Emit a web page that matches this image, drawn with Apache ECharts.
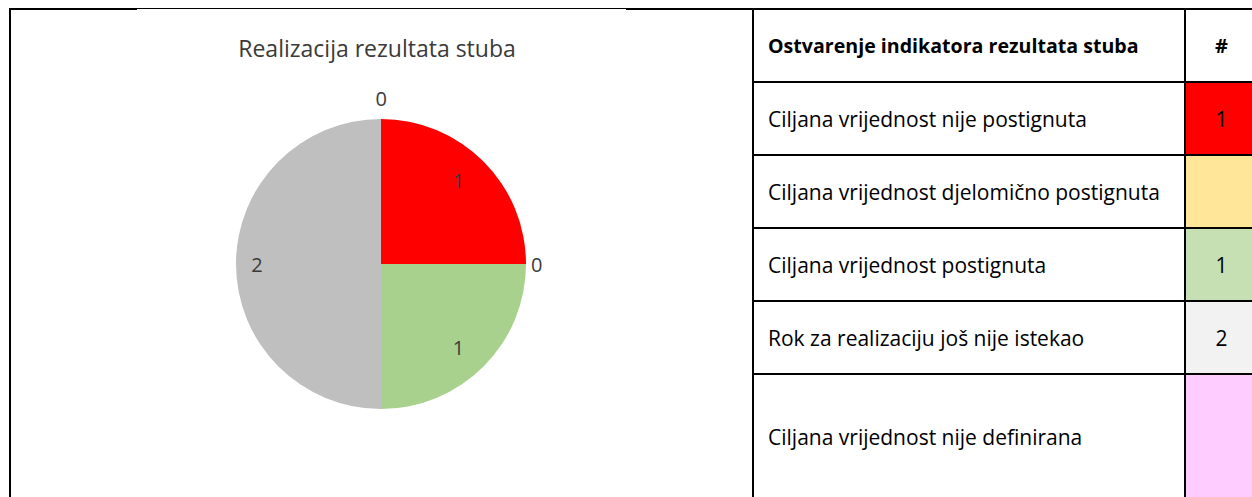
<!DOCTYPE html>
<html>
<head>
<meta charset="utf-8">
<title>Realizacija rezultata stuba</title>
<script src="https://cdn.jsdelivr.net/npm/echarts@6/dist/echarts.min.js"></script>
<style>
  html, body { margin: 0; padding: 0; background: #fff; }
  #main { width: 1252px; height: 497px; }
</style>
</head>
<body>
<div id="main"></div>
<script>
// data
const chartTitle = "Realizacija rezultata stuba";
const tableHeader = "Ostvarenje indikatora rezultata stuba";
const countHeader = "#";
const categories = [
  "Ciljana vrijednost nije postignuta",
  "Ciljana vrijednost djelomično postignuta",
  "Ciljana vrijednost postignuta",
  "Rok za realizaciju još nije istekao",
  "Ciljana vrijednost nije definirana",
];
const counts = [1, 0, 1, 2, 0];

// palettes
const pieColors = ["#FF0000", "#FFD966", "#A9D18E", "#BFBFBF", "#FF99FF"];
const cellColors = ["#FF0000", "#FFE699", "#C6E0B4", "#F2F2F2", "#FFCCFF"];

const font = "'Open Sans', 'Liberation Sans', sans-serif";
const textColor = "#3a3a3a";

// table layout
const tableLeft = 753;
const colSplit = 1185;
const tableRight = 1252;
const tableTop = 9;
const rowH = 73;
const bottom = 497;

// extra nudges for the zero-value labels (Excel puts them just outside the rim)
const zeroLabelTweak = {
  1: { label: { distanceToLabelLine: 5, padding: [8, 0, 0, 0] }, labelLine: { length: 0 } },
  4: { label: { distanceToLabelLine: -6 }, labelLine: { length: 21 } },
};

const graphics = [];

// # column fills
categories.forEach((c, i) => {
  const y = tableTop + rowH * (i + 1);
  const h = i === categories.length - 1 ? bottom - y : rowH;
  graphics.push({
    type: "rect",
    shape: { x: colSplit, y: y, width: tableRight - colSplit, height: h },
    style: { fill: cellColors[i] },
    z: 1,
  });
});

// frame of the chart area
graphics.push(
  { type: "line", shape: { x1: 10, y1: 8, x2: 10, y2: bottom }, style: { stroke: "#000", lineWidth: 2 }, z: 5 },
  { type: "line", shape: { x1: 9, y1: 9, x2: 137, y2: 9 }, style: { stroke: "#000", lineWidth: 2 }, z: 5 },
  { type: "line", shape: { x1: 137, y1: 8.5, x2: 626, y2: 8.5 }, style: { stroke: "#000", lineWidth: 1 }, z: 5 },
  { type: "line", shape: { x1: 626, y1: 9, x2: tableRight, y2: 9 }, style: { stroke: "#000", lineWidth: 2 }, z: 5 }
);

// table grid
for (let i = 1; i <= categories.length; i++) {
  const y = tableTop + rowH * i;
  graphics.push({
    type: "line",
    shape: { x1: tableLeft, y1: y, x2: tableRight, y2: y },
    style: { stroke: "#000", lineWidth: 2 },
    z: 5,
  });
}
[tableLeft, colSplit].forEach((x) => {
  graphics.push({
    type: "line",
    shape: { x1: x, y1: tableTop, x2: x, y2: bottom },
    style: { stroke: "#000", lineWidth: 2 },
    z: 5,
  });
});

// table texts
graphics.push(
  {
    type: "text", x: 768, y: tableTop + rowH / 2, z: 6,
    style: { text: tableHeader, fontFamily: font, fontSize: 19.6, fontWeight: "bold", fill: "#000", align: "left", verticalAlign: "middle" },
  },
  {
    type: "text", x: (colSplit + tableRight) / 2 + 3, y: tableTop + rowH / 2, z: 6,
    style: { text: countHeader, fontFamily: font, fontSize: 20, fontWeight: "bold", fill: "#000", align: "center", verticalAlign: "middle" },
  }
);
categories.forEach((c, i) => {
  const top = tableTop + rowH * (i + 1);
  const mid = i === categories.length - 1 ? top + 63 : top + rowH / 2;
  graphics.push({
    type: "text", x: 768, y: mid, z: 6,
    style: { text: c, fontFamily: font, fontSize: 21, fill: "#000", align: "left", verticalAlign: "middle" },
  });
  graphics.push({
    type: "text", x: (colSplit + tableRight) / 2 + 3, y: mid, z: 6,
    style: { text: counts[i] === 0 ? "" : String(counts[i]), fontFamily: font, fontSize: 21, fill: "#000", align: "center", verticalAlign: "middle" },
  });
});

const pieCenter = [381, 264];
const pieRadius = 145;

const option = {
  backgroundColor: "#fff",
  animation: false,
  title: {
    text: chartTitle,
    left: 377,
    top: 48,
    padding: 0,
    textAlign: "center",
    textVerticalAlign: "middle",
    textStyle: { fontFamily: font, fontSize: 23, fontWeight: "normal", color: textColor },
  },
  graphic: { elements: graphics },
  series: [
    {
      type: "pie",
      center: pieCenter,
      radius: pieRadius,
      startAngle: 90,
      clockwise: true,
      silent: true,
      label: { show: false },
      labelLine: { show: false },
      itemStyle: { borderWidth: 0 },
      data: categories.map((name, i) => ({
        name: name,
        value: counts[i],
        itemStyle: { color: pieColors[i] },
      })),
    },
    {
      // transparent ring that only carries the data labels
      type: "pie",
      center: pieCenter,
      radius: [85, pieRadius],
      startAngle: 90,
      clockwise: true,
      silent: true,
      avoidLabelOverlap: false,
      itemStyle: { color: "rgba(0,0,0,0)", borderWidth: 0 },
      emphasis: { disabled: true },
      label: {
        show: true,
        position: "inside",
        formatter: "{c}",
        fontFamily: font,
        fontSize: 20,
        color: textColor,
        padding: [10, 12, 0, 0],
      },
      labelLine: { show: false, length: 0, length2: 0 },
      data: categories.map((name, i) => {
        const item = { name: name, value: counts[i] };
        if (counts[i] === 0) {
          const t = zeroLabelTweak[i] || {};
          item.label = Object.assign({ position: "outside", padding: 0 }, t.label);
          item.labelLine = Object.assign({ show: false, length2: 0 }, t.labelLine);
        }
        return item;
      }),
    },
  ],
};

const chart = echarts.init(document.getElementById("main"), null, { renderer: "svg" });
chart.setOption(option);
</script>
</body>
</html>
